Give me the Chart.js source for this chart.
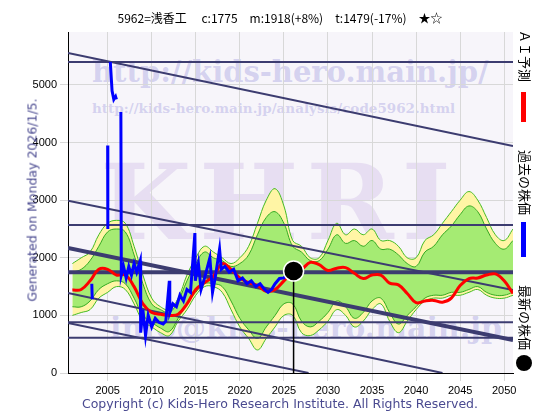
<!DOCTYPE html>
<html><head><meta charset="utf-8">
<script src="https://cdn.jsdelivr.net/npm/chart.js@4"></script>
<style>
body{margin:0;width:560px;height:420px;background:#fff;position:relative;overflow:hidden;font-family:"DejaVu Sans",sans-serif}
#plotbg{position:absolute;left:68px;top:32px;width:445px;height:341px;background:#f7f5fa}
.wm{position:absolute;color:rgba(170,165,225,0.45);font-family:"DejaVu Serif",serif;font-weight:bold;white-space:nowrap}
canvas{position:absolute;left:0;top:0}
.txt{position:absolute;white-space:nowrap}
.vt{position:absolute;writing-mode:vertical-rl;text-orientation:sideways;font-family:"Noto Sans CJK JP";font-size:13px;color:#000}
</style></head><body>
<div id="plotbg"></div>
<div class="wm" style="left:92px;top:55px;font-size:29px">http://kids-hero.main.jp/</div>
<div class="wm" style="left:92px;top:100px;font-size:13.5px">http://kids-hero.main.jp/analysis/code5962.html</div>
<div class="wm" style="left:100px;top:140px;font-size:105px;color:rgba(200,180,225,0.35);letter-spacing:8px">KHRI</div>
<div class="wm" style="left:110px;top:310px;font-size:30px">info@kids-hero.main.jp</div>
<canvas id="c" width="560" height="420"></canvas>
<div class="txt" style="left:0;width:560px;top:9px;text-align:center;font-size:12px;font-family:'Noto Sans CJK JP'">5962=浅香工　 c:1775　m:1918(+8%)　t:1479(-17%)　★☆</div>
<div class="txt" style="top:200px;font-size:12.5px;color:#4a4a90;transform:translate(-50%,-50%) rotate(-90deg);left:32px">Generated on Monday 2026/1/5.</div>
<div class="txt" style="left:0;width:560px;top:396px;text-align:center;font-size:12.5px;color:#4a4a90">Copyright (c) Kids-Hero Research Institute. All Rights Reserved.</div>
<div class="vt" style="left:516px;top:30px">ＡＩ予測</div>
<div style="position:absolute;left:521px;top:92px;width:5px;height:30px;background:#f00"></div>
<div class="vt" style="left:516px;top:150px">過去の株価</div>
<div style="position:absolute;left:521px;top:222px;width:5px;height:35px;background:#00f"></div>
<div class="vt" style="left:516px;top:285px">最新の株価</div>
<div style="position:absolute;left:516px;top:355px;width:16px;height:16px;border-radius:50%;background:#000"></div>
<script>
const years=[];for(let y=2001;y<=2051;y++)years.push(y);
const aiForecast=[1440,1450,1600,1800,1800,1700,1700,1500,1200,1050,1020,1000,1020,1200,1450,1570,1680,1900,1800,1650,1570,1520,1420,1450,1600,1750,1800,1920,1880,1780,1820,1830,1730,1640,1700,1700,1560,1530,1380,1220,1250,1260,1230,1300,1520,1640,1650,1700,1720,1600,1380];
const outerUpper=[1900,2000,2100,2400,2600,2650,2600,2200,1700,1300,1150,1100,1300,1700,2000,2200,2100,2000,1900,2000,2200,2600,3000,3200,2900,2300,2200,2000,2000,2300,2600,2400,2500,2400,2500,2300,2300,2200,2000,2000,2300,2400,2600,2800,3000,3150,3000,2700,2400,2300,2500];
const outerLower=[1000,1050,1100,1300,1400,1500,1450,1200,900,800,700,650,900,1100,1350,1500,1500,1400,1100,800,600,400,600,800,1000,1000,700,650,750,900,1100,1000,800,900,1100,1200,900,700,900,1100,1250,1300,1300,1350,1350,1400,1450,1350,1300,1300,1350];
const innerUpper=[1750,1800,1950,2200,2450,2500,2450,2050,1550,1200,1100,1050,1250,1600,1900,2100,2000,1950,1850,1900,2050,2400,2700,2800,2600,2200,2100,1950,1950,2150,2400,2250,2300,2200,2300,2150,2150,2050,1900,1850,2100,2200,2400,2550,2750,2900,2800,2500,2250,2150,2300];
const innerLower=[1150,1150,1250,1450,1550,1600,1550,1300,1000,880,780,720,950,1200,1400,1550,1550,1500,1250,950,750,600,800,1000,1200,1200,900,800,900,1050,1250,1150,950,1050,1250,1300,1050,850,1000,1150,1300,1350,1350,1400,1400,1450,1500,1400,1350,1350,1400];
const pastX=[2003.2,2003.25,null,2005.0,2005.02,null,2005.3,2005.5,2005.7,2005.9,2006.0,null,2006.5,2006.55,2006.8,2007.1,2007.4,2007.7,2008.0,2008.3,2008.7,2008.75,2009.0,2009.3,2009.6,2010.0,2010.4,2010.8,2011.3,2011.6,2012.0,2012.05,2012.4,2012.8,2013.2,2013.6,2014.0,2014.4,2014.9,2014.95,2015.3,2015.6,2016.0,2016.6,2016.9,2017.2,2017.7,2017.9,2018.3,2018.8,2019.3,2019.8,2020.3,2020.8,2021.3,2021.8,2022.3,2022.8,2023.2,2023.6,2024.0,2024.5,2025.0,2025.3];
const pastY=[1550,1280,null,3950,2500,null,5400,4900,4750,4800,4750,null,4530,1700,1850,1650,1850,1700,1900,1750,1950,700,1100,650,1000,800,950,880,850,900,1600,1050,1200,1150,1350,1250,1450,1400,2430,1600,1900,1450,1650,2000,1400,1650,2150,1800,1850,1750,1800,1600,1650,1550,1600,1500,1550,1450,1400,1450,1550,1640,1650,1700];
const latest={x:2026.1,y:1770};
const hLines=[5400,2570,1750,880,610];
const diagLines=[[[2000.5,5555],[2051,3940],2],[[2000.5,2990],[2051,1440],2],[[2000.5,2170],[2051,573],4],[[2000.5,1390],[2043,0],2],[[2000.5,870],[2027.8,0],2]];
const pts=a=>years.map((y,i)=>({x:y,y:a[i]}));
const ds=[];
ds.push({data:pts(outerUpper),borderColor:'#44bb22',borderWidth:1,pointRadius:0,fill:'+1',backgroundColor:'rgba(255,245,165,1)',tension:0.4});
ds.push({data:pts(outerLower),borderColor:'#44bb22',borderWidth:1,pointRadius:0,fill:false,tension:0.4});
ds.push({data:pts(innerUpper),borderColor:'#33aa22',borderWidth:1,pointRadius:0,fill:'+1',backgroundColor:'rgba(165,235,115,1)',tension:0.4});
ds.push({data:pts(innerLower),borderColor:'#33aa22',borderWidth:1,pointRadius:0,fill:false,tension:0.4});
hLines.forEach(v=>ds.push({data:[{x:2000.5,y:v},{x:2051,y:v}],borderColor:'#3c3c70',borderWidth:v===1750?4:2,pointRadius:0,fill:false}));
diagLines.forEach(d=>ds.push({data:[{x:d[0][0],y:d[0][1]},{x:d[1][0],y:d[1][1]}],borderColor:'#3c3c70',borderWidth:d[2],pointRadius:0,fill:false}));
ds.push({data:pts(aiForecast),borderColor:'#ff0000',borderWidth:3,pointRadius:0,fill:false,tension:0.4});
ds.push({data:pastX.map((x,i)=>x===null?{x:NaN,y:null}:{x:x,y:pastY[i]}),borderColor:'#0000ff',borderWidth:3,pointRadius:0,fill:false,spanGaps:false});
ds.push({data:[{x:latest.x,y:latest.y},{x:latest.x,y:0}],borderColor:'#000',borderWidth:1.5,pointRadius:0,fill:false});
ds.push({data:[latest],pointRadius:10,pointBackgroundColor:'#000',pointBorderColor:'#fff',pointBorderWidth:1.5,showLine:false});
ds.forEach((d,i)=>{d.order=ds.length-i;});
new Chart(document.getElementById('c'),{type:'line',data:{datasets:ds},
options:{responsive:false,animation:false,plugins:{legend:{display:false},tooltip:{enabled:false},filler:{drawTime:'beforeDatasetDraw'}},
layout:{padding:{left:0,top:32,right:47,bottom:0}},
scales:{x:{type:'linear',min:2000.5,max:2051,afterFit:s=>{s.height=47},afterBuildTicks:s=>{s.ticks=[2005,2010,2015,2020,2025,2030,2035,2040,2045,2050].map(v=>({value:v}))},
ticks:{color:'#000',font:{size:11},callback:v=>String(v),maxRotation:0},grid:{color:'#d8d8d8'},border:{color:'#000'}},
y:{min:0,max:5920,afterFit:s=>{s.width=68},afterBuildTicks:s=>{s.ticks=[0,1000,2000,3000,4000,5000].map(v=>({value:v}))},
ticks:{color:'#000',font:{size:11},callback:v=>String(v)},grid:{color:'#d8d8d8'},border:{color:'#000'}}}}});
</script></body></html>
